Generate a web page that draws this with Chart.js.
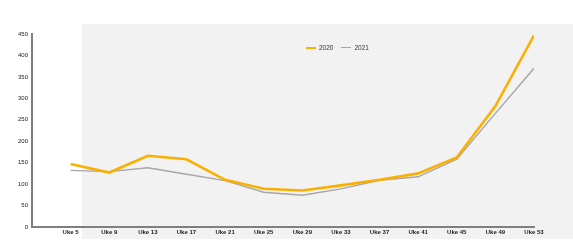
<!DOCTYPE html>
<html><head><meta charset="utf-8">
<script src="https://cdn.jsdelivr.net/npm/chart.js@4/dist/chart.umd.min.js"></script>
<style>
html,body{margin:0;padding:0;background:#fff;}
#wrap{position:relative;width:573px;height:245px;}
#legend{position:absolute;left:306px;top:44px;font:6.5px "Liberation Sans",Arial,sans-serif;color:#333;display:flex;align-items:center;}
#legend span.sw{display:inline-block;width:10px;margin-right:3px;}
#legend span.t{margin-right:8px;}
</style></head>
<body><div id="wrap"><canvas id="c" width="573" height="245"></canvas>
<div id="legend"></div></div>
<script>
const weeks = [5, 9, 13, 17, 21, 25, 29, 33, 37, 41, 45, 49, 53];
const weekLabels = weeks.map(w => 'Uke ' + w);
const series2020 = [147, 127, 166, 158, 110, 89, 85, 97, 110, 125, 162, 282, 447];
const series2021 = [132, 129, 138, 123, 108, 81, 74, 89, 109, 117, 158, 265, 370];
const seriesNames = ['2020', '2021'];
const yTicks = [0, 50, 100, 150, 200, 250, 300, 350, 400, 450];

const colors = ['#FBB000', '#A6A6A6'];
const widths = [2.6, 1.4];

const bgPlugin = {
  id: 'bg',
  beforeDraw(chart) {
    const ctx = chart.ctx;
    ctx.save();
    ctx.fillStyle = '#F2F2F2';
    ctx.fillRect(82, 24, 573 - 82, 239 - 24);
    ctx.restore();
  }
};

const toPts = arr => arr.map((v, i) => ({x: weeks[i], y: v}));

new Chart(document.getElementById('c'), {
  type: 'line',
  data: {
    datasets: [
      {label: seriesNames[0], data: toPts(series2020), borderColor: colors[0], borderWidth: widths[0], pointRadius: 0, tension: 0},
      {label: seriesNames[1], data: toPts(series2021), borderColor: colors[1], borderWidth: widths[1], pointRadius: 0, tension: 0}
    ]
  },
  options: {
    responsive: false,
    animation: false,
    layout: {padding: {top: 34, right: 39, bottom: 0, left: 0}},
    plugins: {legend: {display: false}, tooltip: {enabled: false}},
    scales: {
      x: {
        type: 'linear', min: 1, max: 53,
        afterBuildTicks: ax => { ax.ticks = weeks.map(v => ({value: v})); },
        afterFit: ax => { ax.height = 18; },
        grid: {display: false, drawTicks: false},
        border: {color: '#7F7F7F', width: 2},
        ticks: {
          callback: (v) => weekLabels[weeks.indexOf(v)],
          font: {family: 'Liberation Sans', size: 6, weight: 'bold'},
          color: '#222', padding: 2, maxRotation: 0, autoSkip: false
        }
      },
      y: {
        min: 0, max: 450,
        afterBuildTicks: ax => { ax.ticks = yTicks.map(v => ({value: v})); },
        afterFit: ax => { ax.width = 32; },
        grid: {display: false, drawTicks: false},
        border: {color: '#7F7F7F', width: 2},
        ticks: {font: {family: 'Liberation Sans', size: 6}, color: '#222', padding: 4}
      }
    }
  },
  plugins: [bgPlugin]
});

const lg = document.getElementById('legend');
seriesNames.forEach((n, i) => {
  const sw = document.createElement('span');
  sw.className = 'sw';
  sw.style.borderTop = widths[i] + 'px solid ' + colors[i];
  const t = document.createElement('span');
  t.className = 't';
  t.textContent = n;
  lg.appendChild(sw); lg.appendChild(t);
});
</script></body></html>
